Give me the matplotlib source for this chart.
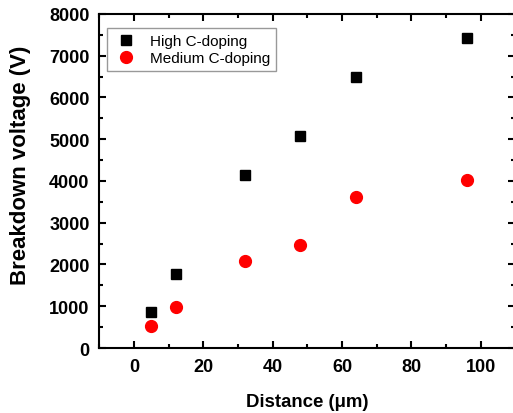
import matplotlib
matplotlib.use('Agg')
import matplotlib.pyplot as plt
from matplotlib.ticker import MultipleLocator

plt.rcParams['font.family'] = ['Liberation Sans', 'DejaVu Sans']

# data
distance = [5, 12, 32, 48, 64, 96]
high_c = [870, 1770, 4150, 5080, 6490, 7420]
medium_c = [520, 970, 2080, 2460, 3610, 4020]

fig = plt.figure(figsize=(5.13, 4.14), dpi=100)
ax = fig.add_axes([0.1935, 0.157, 0.811, 0.807])

ax.plot(distance, high_c, 's', color='black', markersize=7, label='High C-doping')
ax.plot(distance, medium_c, 'o', color='red', markersize=8.5, label='Medium C-doping')

ax.set_xlim(-10, 110)
ax.set_ylim(0, 8000)
ax.xaxis.set_major_locator(MultipleLocator(20))
ax.xaxis.set_minor_locator(MultipleLocator(10))
ax.yaxis.set_major_locator(MultipleLocator(1000))
ax.yaxis.set_minor_locator(MultipleLocator(500))

ax.tick_params(which='both', direction='in', top=True, right=True, width=1.5)
ax.tick_params(which='major', length=5, labelsize=13, pad=7)
ax.tick_params(which='minor', length=3)
for lbl in ax.get_xticklabels() + ax.get_yticklabels():
    lbl.set_fontweight('bold')
for s in ax.spines.values():
    s.set_linewidth(1.5)

ax.set_xlabel('Distance (μm)', fontsize=13.4, fontweight='bold', labelpad=13)
ax.set_ylabel('Breakdown voltage (V)', fontsize=16, fontweight='bold')
ax.yaxis.set_label_coords(-0.165, 0.55)

leg = ax.legend(loc='upper left', bbox_to_anchor=(0.019, 0.958), borderaxespad=0,
                fontsize=11, fancybox=False, edgecolor='gray', handletextpad=0.8,
                borderpad=0.4, labelspacing=0.2, handlelength=1.6)
leg.get_frame().set_linewidth(1.0)

fig.savefig('out.png', dpi=100)
